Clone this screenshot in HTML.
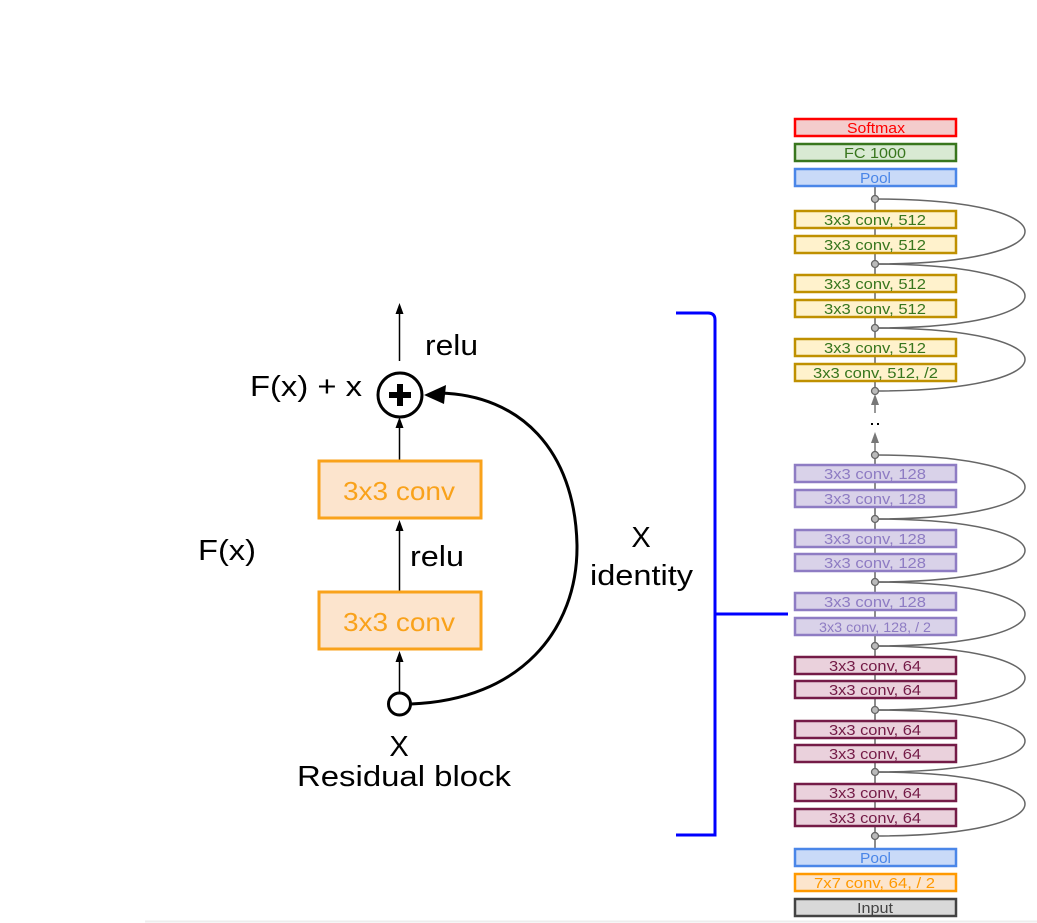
<!DOCTYPE html>
<html><head><meta charset="utf-8"><style>
html,body{margin:0;padding:0;background:#fff;}
svg{display:block;font-family:"Liberation Sans",Arial,sans-serif;}
</style></head><body>
<svg width="1037" height="923" viewBox="0 0 1037 923" xmlns="http://www.w3.org/2000/svg">
<line x1="145" y1="921.5" x2="1037" y2="921.5" stroke="#eee" stroke-width="2"/>
<!-- Residual block -->
<line x1="399.5" y1="361" x2="399.5" y2="312" stroke="#000" stroke-width="1.5"/>
<path d="M395.5,314 L399.5,303 L403.5,314 Z" fill="#000"/>
<text x="425" y="355" font-size="29" textLength="53" lengthAdjust="spacingAndGlyphs">relu</text>
<text x="250" y="396" font-size="29" textLength="112" lengthAdjust="spacingAndGlyphs">F(x) + x</text>
<circle cx="400" cy="395" r="22" fill="#fff" stroke="#000" stroke-width="3"/>
<path d="M400,384 V406 M389,395 H411" stroke="#000" stroke-width="6"/>
<line x1="399.5" y1="460" x2="399.5" y2="425" stroke="#000" stroke-width="1.5"/>
<path d="M395.5,428 L399.5,417 L403.5,428 Z" fill="#000"/>
<rect x="319" y="461" width="162" height="57" fill="#fce4cd" stroke="#f9a21b" stroke-width="3"/>
<text x="343" y="500" font-size="26" fill="#f9a21b" textLength="112" lengthAdjust="spacingAndGlyphs">3x3 conv</text>
<line x1="399.5" y1="591" x2="399.5" y2="528" stroke="#000" stroke-width="1.5"/>
<path d="M395.5,531 L399.5,520 L403.5,531 Z" fill="#000"/>
<text x="410" y="566" font-size="29" textLength="54" lengthAdjust="spacingAndGlyphs">relu</text>
<text x="198" y="560" font-size="29" textLength="58" lengthAdjust="spacingAndGlyphs">F(x)</text>
<rect x="319" y="592" width="162" height="57" fill="#fce4cd" stroke="#f9a21b" stroke-width="3"/>
<text x="343" y="631" font-size="26" fill="#f9a21b" textLength="112" lengthAdjust="spacingAndGlyphs">3x3 conv</text>
<line x1="399.5" y1="693" x2="399.5" y2="659" stroke="#000" stroke-width="1.5"/>
<path d="M395.5,662 L399.5,651 L403.5,662 Z" fill="#000"/>
<circle cx="399.5" cy="704" r="11" fill="#fff" stroke="#000" stroke-width="3"/>
<path d="M411,704 C520,700 578,630 577,545 C575,450 520,395 440,393" fill="none" stroke="#000" stroke-width="3"/>
<path d="M424,395 L446,385 L444,404 Z" fill="#000"/>
<text x="399" y="756" font-size="29" text-anchor="middle">X</text>
<text x="297" y="786" font-size="29" textLength="214" lengthAdjust="spacingAndGlyphs">Residual block</text>
<text x="641" y="547" font-size="29" text-anchor="middle">X</text>
<text x="590" y="585" font-size="29" textLength="103" lengthAdjust="spacingAndGlyphs">identity</text>
<!-- bracket -->
<path d="M676,313 H708 Q715,313 715,320 V835 H676 M715,614 H788" fill="none" stroke="#0000ff" stroke-width="3"/>
<!-- skip curves -->
<g fill="none" stroke="#666" stroke-width="1.5">
<path d="M875,199 C1075,199 1075,264 875,264"/>
<path d="M875,264 C1075,264 1075,328 875,328"/>
<path d="M875,328 C1075,328 1075,391 875,391"/>
<path d="M875,455 C1075,455 1075,519 875,519"/>
<path d="M875,519 C1075,519 1075,582 875,582"/>
<path d="M875,582 C1075,582 1075,646 875,646"/>
<path d="M875,646 C1075,646 1075,710 875,710"/>
<path d="M875,710 C1075,710 1075,772 875,772"/>
<path d="M875,772 C1075,772 1075,836 875,836"/>
<line x1="875" y1="187" x2="875" y2="391"/>
<line x1="875" y1="455" x2="875" y2="849"/>
</g>
<line x1="875" y1="400" x2="875" y2="413" stroke="#777" stroke-width="1.5"/>
<path d="M871,405 L875,394 L879,405 Z" fill="#777"/>
<line x1="875" y1="440" x2="875" y2="455" stroke="#777" stroke-width="1.5"/>
<path d="M871,443 L875,432 L879,443 Z" fill="#777"/>
<rect x="871" y="423" width="2" height="2" fill="#000"/><rect x="877" y="423" width="2" height="2" fill="#000"/>
<g fill="#bbb" stroke="#666" stroke-width="1.3">
<circle cx="875" cy="199" r="3.5"/><circle cx="875" cy="264" r="3.5"/><circle cx="875" cy="328" r="3.5"/><circle cx="875" cy="391" r="3.5"/>
<circle cx="875" cy="455" r="3.5"/><circle cx="875" cy="519" r="3.5"/><circle cx="875" cy="582" r="3.5"/><circle cx="875" cy="646" r="3.5"/>
<circle cx="875" cy="710" r="3.5"/><circle cx="875" cy="772" r="3.5"/><circle cx="875" cy="836" r="3.5"/>
</g>
<!-- layer boxes -->
<g font-size="15" stroke-width="2.5" lengthAdjust="spacingAndGlyphs">
<rect x="795" y="119" width="161" height="17" fill="#f4cccc" stroke="#ff0000"/><text x="847" y="133" fill="#ff0000" stroke="none" textLength="58" lengthAdjust="spacingAndGlyphs">Softmax</text>
<rect x="795" y="144" width="161" height="17" fill="#d9ead3" stroke="#38761d"/><text x="844" y="158" fill="#38761d" stroke="none" textLength="62" lengthAdjust="spacingAndGlyphs">FC 1000</text>
<rect x="795" y="169" width="161" height="17" fill="#c9daf8" stroke="#4a86e8"/><text x="860" y="183" fill="#4a86e8" stroke="none" textLength="31" lengthAdjust="spacingAndGlyphs">Pool</text>

<rect x="795" y="211" width="161" height="17" fill="#fff2cc" stroke="#bf9000"/><text x="824" y="225" fill="#38761d" stroke="none" textLength="102" lengthAdjust="spacingAndGlyphs">3x3 conv, 512</text>
<rect x="795" y="236" width="161" height="17" fill="#fff2cc" stroke="#bf9000"/><text x="824" y="250" fill="#38761d" stroke="none" textLength="102" lengthAdjust="spacingAndGlyphs">3x3 conv, 512</text>
<rect x="795" y="275" width="161" height="17" fill="#fff2cc" stroke="#bf9000"/><text x="824" y="289" fill="#38761d" stroke="none" textLength="102" lengthAdjust="spacingAndGlyphs">3x3 conv, 512</text>
<rect x="795" y="300" width="161" height="17" fill="#fff2cc" stroke="#bf9000"/><text x="824" y="314" fill="#38761d" stroke="none" textLength="102" lengthAdjust="spacingAndGlyphs">3x3 conv, 512</text>
<rect x="795" y="339" width="161" height="17" fill="#fff2cc" stroke="#bf9000"/><text x="824" y="353" fill="#38761d" stroke="none" textLength="102" lengthAdjust="spacingAndGlyphs">3x3 conv, 512</text>
<rect x="795" y="364" width="161" height="17" fill="#fff2cc" stroke="#bf9000"/><text x="813" y="378" fill="#38761d" stroke="none" textLength="125" lengthAdjust="spacingAndGlyphs">3x3 conv, 512, /2</text>

<rect x="795" y="465" width="161" height="17" fill="#d9d2e9" stroke="#8e7cc3"/><text x="824" y="479" fill="#8e7cc3" stroke="none" textLength="102" lengthAdjust="spacingAndGlyphs">3x3 conv, 128</text>
<rect x="795" y="490" width="161" height="17" fill="#d9d2e9" stroke="#8e7cc3"/><text x="824" y="504" fill="#8e7cc3" stroke="none" textLength="102" lengthAdjust="spacingAndGlyphs">3x3 conv, 128</text>
<rect x="795" y="530" width="161" height="17" fill="#d9d2e9" stroke="#8e7cc3"/><text x="824" y="544" fill="#8e7cc3" stroke="none" textLength="102" lengthAdjust="spacingAndGlyphs">3x3 conv, 128</text>
<rect x="795" y="554" width="161" height="17" fill="#d9d2e9" stroke="#8e7cc3"/><text x="824" y="568" fill="#8e7cc3" stroke="none" textLength="102" lengthAdjust="spacingAndGlyphs">3x3 conv, 128</text>
<rect x="795" y="593" width="161" height="17" fill="#d9d2e9" stroke="#8e7cc3"/><text x="824" y="607" fill="#8e7cc3" stroke="none" textLength="102" lengthAdjust="spacingAndGlyphs">3x3 conv, 128</text>
<rect x="795" y="618" width="161" height="17" fill="#d9d2e9" stroke="#8e7cc3"/><text x="819" y="632" fill="#8e7cc3" stroke="none" font-size="14" textLength="112" lengthAdjust="spacingAndGlyphs">3x3 conv, 128, / 2</text>

<rect x="795" y="657" width="161" height="17" fill="#ead1dc" stroke="#741b47"/><text x="829" y="671" fill="#741b47" stroke="none" textLength="92" lengthAdjust="spacingAndGlyphs">3x3 conv, 64</text>
<rect x="795" y="681" width="161" height="17" fill="#ead1dc" stroke="#741b47"/><text x="829" y="695" fill="#741b47" stroke="none" textLength="92" lengthAdjust="spacingAndGlyphs">3x3 conv, 64</text>
<rect x="795" y="721" width="161" height="17" fill="#ead1dc" stroke="#741b47"/><text x="829" y="735" fill="#741b47" stroke="none" textLength="92" lengthAdjust="spacingAndGlyphs">3x3 conv, 64</text>
<rect x="795" y="745" width="161" height="17" fill="#ead1dc" stroke="#741b47"/><text x="829" y="759" fill="#741b47" stroke="none" textLength="92" lengthAdjust="spacingAndGlyphs">3x3 conv, 64</text>
<rect x="795" y="784" width="161" height="17" fill="#ead1dc" stroke="#741b47"/><text x="829" y="798" fill="#741b47" stroke="none" textLength="92" lengthAdjust="spacingAndGlyphs">3x3 conv, 64</text>
<rect x="795" y="809" width="161" height="17" fill="#ead1dc" stroke="#741b47"/><text x="829" y="823" fill="#741b47" stroke="none" textLength="92" lengthAdjust="spacingAndGlyphs">3x3 conv, 64</text>

<rect x="795" y="849" width="161" height="17" fill="#c9daf8" stroke="#4a86e8"/><text x="860" y="863" fill="#4a86e8" stroke="none" textLength="31" lengthAdjust="spacingAndGlyphs">Pool</text>
<rect x="795" y="874" width="161" height="17" fill="#fce5cd" stroke="#ff9900"/><text x="814" y="888" fill="#ff9900" stroke="none" textLength="121" lengthAdjust="spacingAndGlyphs">7x7 conv, 64, / 2</text>
<rect x="795" y="899" width="161" height="17" fill="#d9d9d9" stroke="#434343"/><text x="857" y="913" fill="#434343" stroke="none" textLength="36" lengthAdjust="spacingAndGlyphs">Input</text>
</g>
</svg>
</body></html>
